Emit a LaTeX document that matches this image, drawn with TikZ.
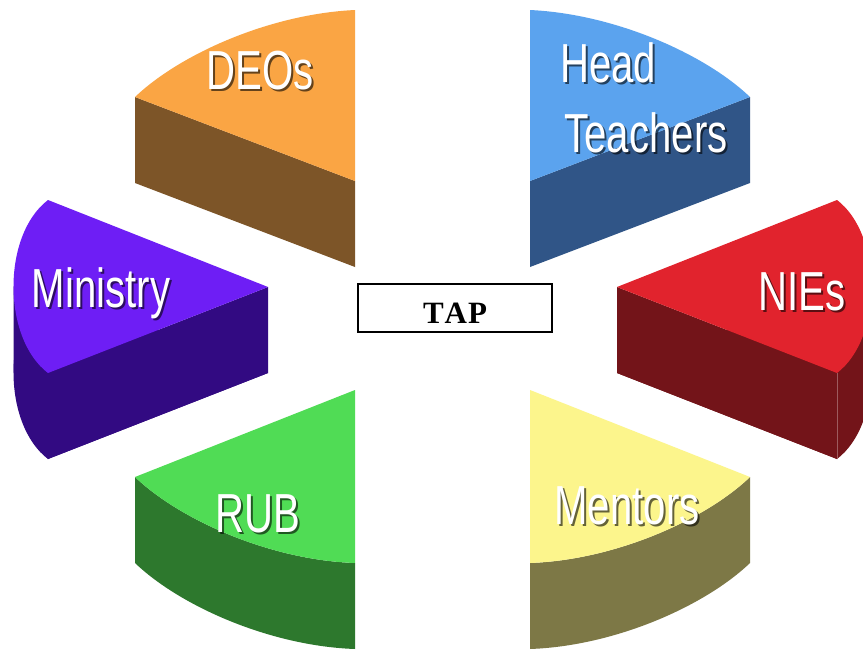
\documentclass[tikz,border=0pt]{standalone}
\usepackage{fontspec}
\setmainfont{Liberation Serif}
\newfontfamily\labfont{Liberation Sans}
\definecolor{orangeTop}{HTML}{FAA544}
\definecolor{orangeSide}{HTML}{7D5528}
\definecolor{blueTop}{HTML}{5BA3EE}
\definecolor{blueSide}{HTML}{305587}
\definecolor{violetTop}{HTML}{6E1EF5}
\definecolor{violetSide}{HTML}{320A82}
\definecolor{redTop}{HTML}{E1232D}
\definecolor{redSide}{HTML}{731419}
\definecolor{greenTop}{HTML}{50DC55}
\definecolor{greenSide}{HTML}{2D782D}
\definecolor{yellowTop}{HTML}{FCF58C}
\definecolor{yellowSide}{HTML}{7D7846}
\tikzset{
  lab/.style={inner sep=0pt, anchor=base, font=\labfont\fontsize{55}{60}\selectfont},
  labshadow/.style={lab, text=black, text opacity=0.6},
  labmain/.style={lab, text=white},
  tapbox/.style={draw=black, line width=1.3pt, fill=white, minimum width=194pt, minimum height=48pt, inner sep=0pt},
}
\newcommand{\embtext}[4]{%
  \node[labshadow] (#1-sh) at (#2+2,#3+2) {\scalebox{0.73}[1]{#4}};
  \node[labmain] (#1) at (#2,#3) {\scalebox{0.73}[1]{#4}};
}
\begin{document}
\begin{tikzpicture}[x=1pt,y=-1pt]
\useasboundingbox (0,0) rectangle (863,649);
\clip (0,0) rectangle (863,649);
\fill[white] (0,0) rectangle (863,649);

% DEOs
\fill[orangeSide] (135,97) -- (355,181) -- (355,267) -- (135,183) -- cycle;
\fill[orangeTop] (135,97) .. controls (180,54) and (270,14) .. (355,10) -- (355,181) -- cycle;

% Head Teachers
\fill[blueSide] (750,97) -- (530,181) -- (530,267) -- (750,183) -- cycle;
\fill[blueTop] (750,97) .. controls (705,54) and (615,14) .. (530,10) -- (530,181) -- cycle;

% Ministry
\begin{scope}[yshift=-86pt]
\fill[violetSide] (48,200) -- (268,287) -- (48,373) .. controls (2,338) and (2,235) .. (48,200) -- cycle;
\end{scope}
\fill[violetSide] (13.5,286) -- (48,373) -- (48,459) -- (13.5,372) -- cycle;
\fill[violetSide] (268,287) -- (48,373) -- (48,459) -- (268,373) -- cycle;
\fill[violetTop] (48,200) -- (268,287) -- (48,373) .. controls (2,338) and (2,235) .. (48,200) -- cycle;

% NIEs
\begin{scope}[yshift=-86pt]
\fill[redSide] (837,200) -- (617,287) -- (837,373) .. controls (883,338) and (883,235) .. (837,200) -- cycle;
\end{scope}
\fill[redSide] (871.5,286) -- (837,373) -- (837,459) -- (871.5,372) -- cycle;
\fill[redSide] (617,287) -- (837,373) -- (837,459) -- (617,373) -- cycle;
\fill[redTop] (837,200) -- (617,287) -- (837,373) .. controls (883,338) and (883,235) .. (837,200) -- cycle;
\draw[redSide!70!white, line width=0.5pt] (837,373) -- (837,459);

% RUB
\fill[greenSide] (135,477) .. controls (180,520) and (270,560) .. (355,563) -- (355,649) .. controls (270,646) and (180,606) .. (135,563) -- cycle;
\fill[greenTop] (355,390) -- (135,477) .. controls (180,520) and (270,560) .. (355,563) -- cycle;

% Mentors
\fill[yellowSide] (750,477) .. controls (705,520) and (615,560) .. (530,563) -- (530,649) .. controls (615,646) and (705,606) .. (750,563) -- cycle;
\fill[yellowTop] (530,390) -- (750,477) .. controls (705,520) and (615,560) .. (530,563) -- cycle;

% labels
\embtext{deos}{260}{89}{DEOs}
\embtext{head}{608}{82}{Head}
\embtext{teachers}{646}{152}{Teachers}
\embtext{ministry}{101}{307}{Ministry}
\embtext{nies}{802}{310}{NIEs}
\embtext{rub}{258}{532}{RUB}
\embtext{mentors}{627}{524}{Mentors}

% centre box
\node[tapbox] (tapframe) at (455,308) {};
\node[inner sep=0pt, anchor=base, font=\fontsize{31}{34}\selectfont\bfseries] (tap) at (455,323) {T\kern1ptA\kern1ptP};
\end{tikzpicture}
\end{document}
